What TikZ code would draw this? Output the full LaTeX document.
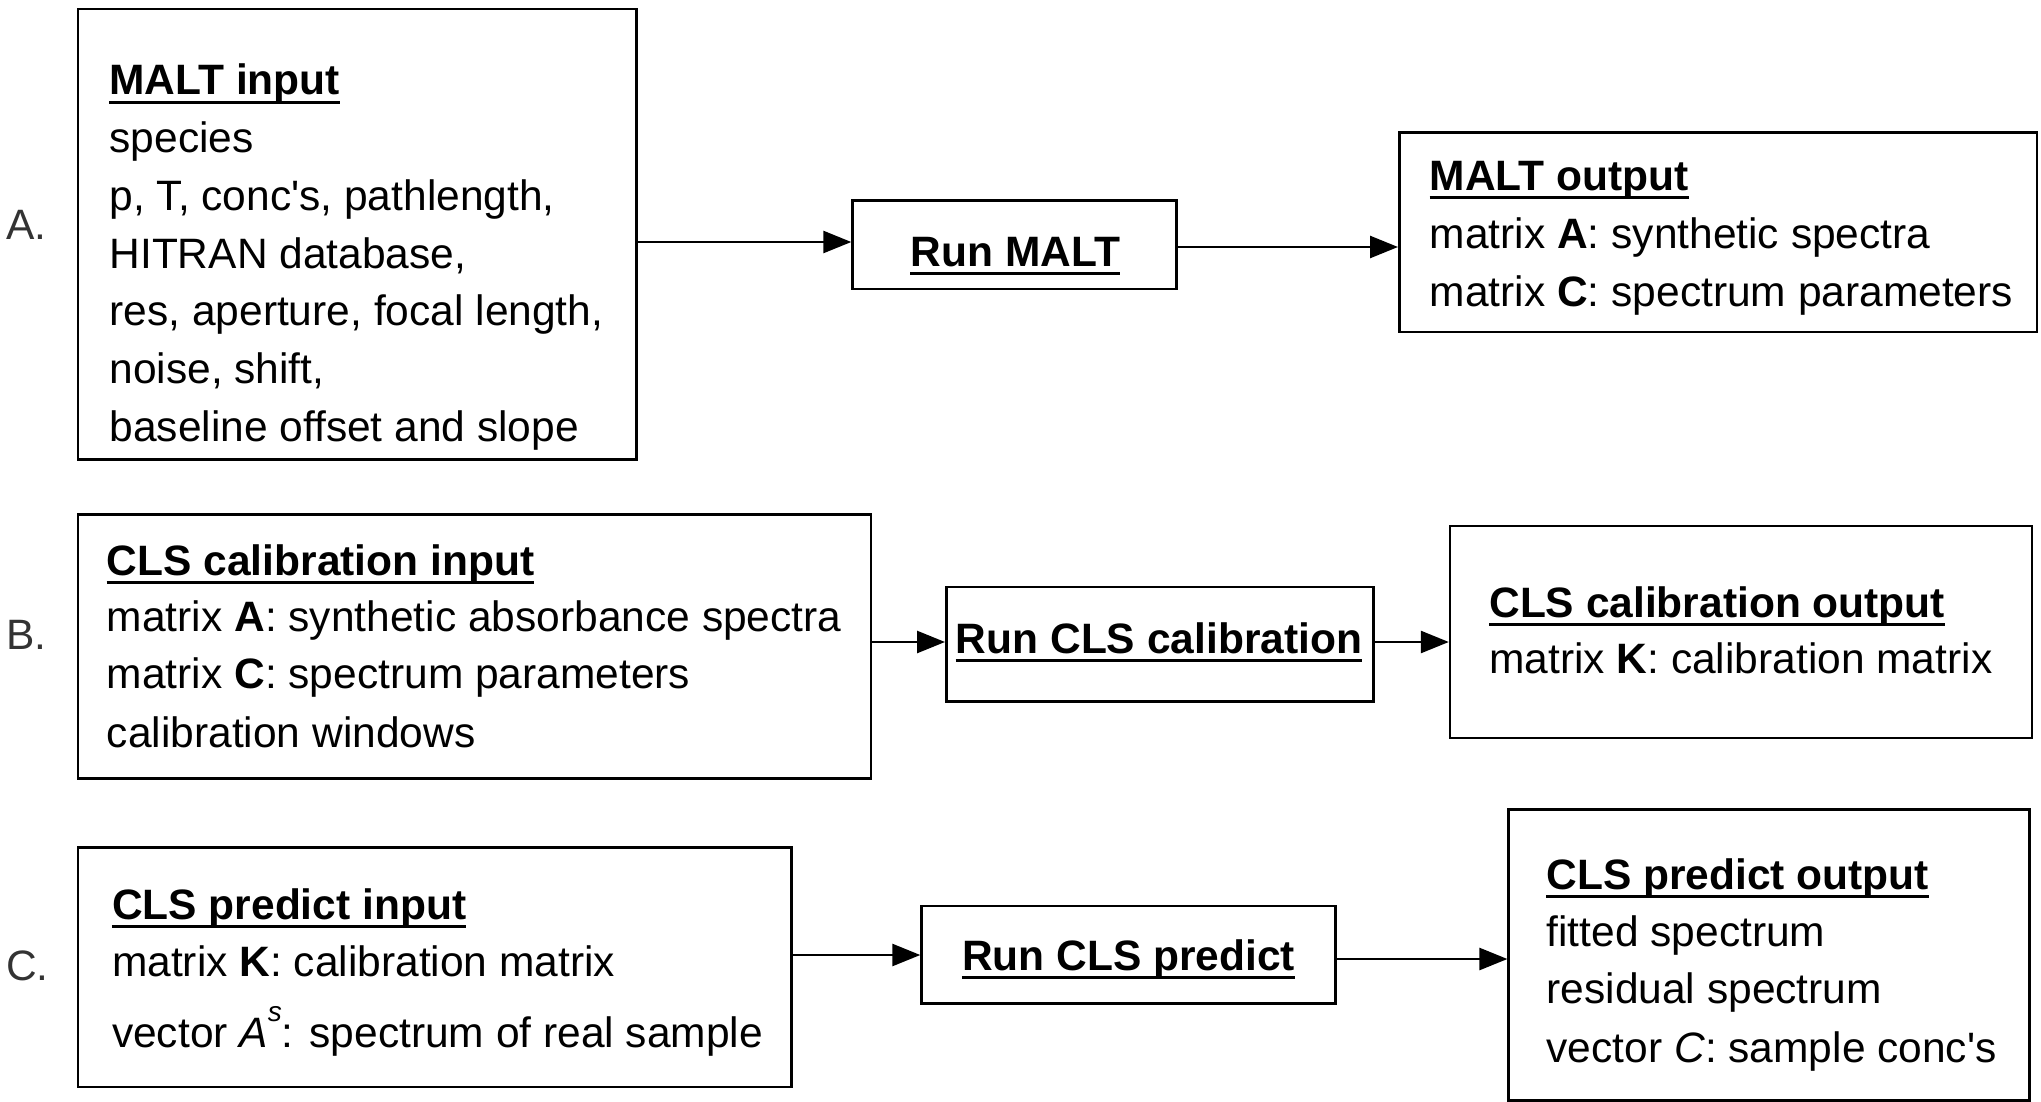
\documentclass[tikz,border=0pt]{standalone}
\usepackage{fontspec}
\setmainfont{Liberation Sans}[Ligatures=TeXOff]
\usetikzlibrary{arrows.meta}
\newcommand{\mkbox}[5]{\node[box, minimum width={#4-#2}, minimum height={#5-#3}] (#1) at ({(#2+#4)/2},{(#3+#5)/2}) {};}
\newcommand{\ulin}[1]{\draw[ul] ([yshift=-7.5pt]#1.base west) -- ([yshift=-7.5pt]#1.base east);}
\begin{document}
\begin{tikzpicture}[x=1pt,y=-1pt,
 box/.style={draw, line width=2.6pt, inner sep=0pt},
 txt/.style={anchor=base west, inner sep=0pt, font=\fontsize{42.5}{50}\selectfont},
 ttl/.style={anchor=base west, inner sep=0pt, font=\fontsize{42.5}{50}\selectfont\bfseries},
 ctr/.style={anchor=base, inner sep=0pt, font=\fontsize{42.5}{50}\selectfont\bfseries},
 lbl/.style={anchor=base west, inner sep=0pt, font=\fontsize{42.5}{50}\selectfont, text=black!80},
 arr/.style={line width=2.6pt, -{Triangle[length=28pt,width=22pt]}},
 ul/.style={line width=3.5pt}]
\useasboundingbox (0,0) rectangle (2041,1102);

% ---------- row A ----------
\mkbox{ain}{78}{9}{636.5}{459.5}
\mkbox{arun}{852.6}{200.5}{1176.7}{289}
\mkbox{aout}{1399.3}{132.8}{2037}{331.9}
\node[lbl] (la) at (6,239) {A.};
\node[ttl] (at0) at (109.3,95) {MALT input}; \ulin{at0}
\node[txt] (at1) at (109.3,152.7) {species};
\node[txt] (at2) at (109.3,210.4) {p, T, conc's, pathlength,};
\node[txt] (at3) at (109.3,268.1) {HITRAN database,};
\node[txt] (at4) at (109.3,325.8) {res, aperture, focal length,};
\node[txt] (at5) at (109.3,383.5) {noise, shift,};
\node[txt] (at6) at (109.3,441.2) {baseline offset and slope};
\node[ctr] (ar) at (1015.3,266) {Run MALT}; \ulin{ar}
\node[ttl] (ao0) at (1429.5,190) {MALT output}; \ulin{ao0}
\node[txt] (ao1) at (1429.5,248) {matrix \textbf{A}: synthetic spectra};
\node[txt] (ao2) at (1429.5,306) {matrix \textbf{C}: spectrum parameters};
\coordinate (ya1) at (0,242);
\coordinate (ya2) at (0,247);
\draw[arr] (ain.east |- ya1) -- (arun.west |- ya1);
\draw[arr] (arun.east |- ya2) -- (aout.west |- ya2);

% ---------- row B ----------
\mkbox{bin}{78}{514.2}{870.8}{778.4}
\mkbox{brun}{946.3}{587.1}{1373.3}{701.6}
\mkbox{bout}{1450.1}{525.9}{2031.9}{738.1}
\node[lbl] (lb) at (6,649) {B.};
\node[ttl] (bt0) at (106.7,575) {CLS calibration input}; \ulin{bt0}
\node[txt] (bt1) at (106.7,631.5) {matrix \textbf{A}: synthetic absorbance spectra};
\node[txt] (bt2) at (106.7,688.5) {matrix \textbf{C}: spectrum parameters};
\node[txt] (bt3) at (106.7,747) {calibration windows};
\node[ctr] (br) at (1159,653) {Run CLS calibration}; \ulin{br}
\node[ttl] (bo0) at (1489.1,617) {CLS calibration output}; \ulin{bo0}
\node[txt] (bo1) at (1489.1,673) {matrix \textbf{K}: calibration matrix};
\coordinate (yb) at (0,642);
\draw[arr] (bin.east |- yb) -- (brun.west |- yb);
\draw[arr] (brun.east |- yb) -- (bout.west |- yb);

% ---------- row C ----------
\mkbox{cin}{78}{847.4}{791.4}{1086.9}
\mkbox{crun}{921.6}{906}{1335.5}{1003.6}
\mkbox{cout}{1508.7}{809.7}{2029.3}{1100.7}
\node[lbl] (lc) at (6,980) {C.};
\node[ttl] (ct0) at (111.9,919) {CLS predict input}; \ulin{ct0}
\node[txt] (ct1) at (111.9,976) {matrix \textbf{K}: calibration matrix};
\node[txt] (ct2) at (111.9,1047.5) {vector \textit{A}\raisebox{0.62em}{\fontsize{28}{30}\selectfont\itshape s}: spectrum of real sample};
\node[ctr] (cr) at (1128.6,970) {Run CLS predict}; \ulin{cr}
\node[ttl] (co0) at (1546.4,889) {CLS predict output}; \ulin{co0}
\node[txt] (co1) at (1546.4,946) {fitted spectrum};
\node[txt] (co2) at (1546.4,1003.3) {residual spectrum};
\node[txt] (co3) at (1546.4,1062) {vector \textit{C}: sample conc's};
\coordinate (yc1) at (0,955);
\coordinate (yc2) at (0,959);
\draw[arr] (cin.east |- yc1) -- (crun.west |- yc1);
\draw[arr] (crun.east |- yc2) -- (cout.west |- yc2);
\end{tikzpicture}
\end{document}
